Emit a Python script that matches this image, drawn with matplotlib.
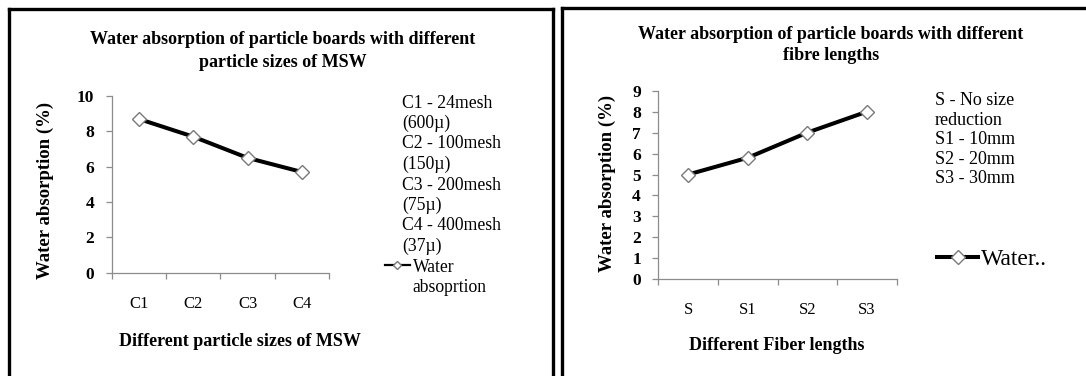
import matplotlib
matplotlib.use("Agg")
import matplotlib.pyplot as plt
from matplotlib.lines import Line2D

plt.rcParams["font.family"] = ["Liberation Serif", "DejaVu Serif"]

W, H = 1086, 376

# ---- data -------------------------------------------------------------
mesh_sizes = ["C1", "C2", "C3", "C4"]
mesh_absorption = [8.7, 7.7, 6.5, 5.7]
mesh_notes = ["C1 - 24mesh", "(600µ)", "C2 - 100mesh", "(150µ)",
              "C3 - 200mesh", "(75µ)", "C4 - 400mesh", "(37µ)"]
mesh_yticks = [0, 2, 4, 6, 8, 10]

fibre_lengths = ["S", "S1", "S2", "S3"]
fibre_absorption = [5.0, 5.8, 7.0, 8.0]
fibre_notes = ["S - No size", "reduction", "S1 - 10mm", "S2 - 20mm", "S3 - 30mm"]
fibre_yticks = [0, 1, 2, 3, 4, 5, 6, 7, 8, 9]

GREY = "#8c8c8c"


def fxy(x, y):
    """pixel (from top-left) -> figure fraction"""
    return x / W, 1 - y / H


def axes_px(fig, x0, y0, x1, y1):
    return fig.add_axes([x0 / W, 1 - y1 / H, (x1 - x0) / W, (y1 - y0) / H])


def frame_line(fig, xs, ys):
    fig.add_artist(Line2D([x / W for x in xs], [1 - y / H for y in ys],
                          transform=fig.transFigure, color="black", lw=2.4,
                          solid_capstyle="projecting"))


def draw_panel(fig, ax, cats, vals, yticks, xlabel, label_px, ylabel_px, cat_pad):
    ax.plot(range(len(cats)), vals, color="black", lw=2.9, marker="D", ms=7.2,
            mfc="white", mec="#7a7a7a", mew=1.0, label="Water", zorder=3)
    n = len(cats)
    ax.set_xlim(-0.5, n - 0.5)
    ax.set_ylim(yticks[0], yticks[-1])
    ax.set_facecolor("none")
    for s in ("top", "right"):
        ax.spines[s].set_visible(False)
    for s in ("left", "bottom"):
        ax.spines[s].set_color(GREY)
        ax.spines[s].set_linewidth(0.9)
    ax.set_xticks([i - 0.5 for i in range(n + 1)])
    ax.set_xticklabels([])
    ax.set_xticks(range(n), minor=True)
    ax.set_xticklabels(cats, minor=True, fontsize=12)
    ax.tick_params(axis="x", which="major", length=4.5, width=0.9, color=GREY)
    ax.tick_params(axis="x", which="minor", length=0, pad=cat_pad)
    ax.set_yticks(yticks)
    ax.set_yticklabels([str(t) for t in yticks], fontsize=12.5, fontweight="bold")
    ax.tick_params(axis="y", length=4.5, width=0.9, color=GREY, pad=8)

    ax.set_xlabel(xlabel, fontsize=13, fontweight="bold", va="center")
    ax.xaxis.set_label_coords(*fxy(*label_px), transform=fig.transFigure)
    ax.set_ylabel("Water absorption (%)", fontsize=13.5, fontweight="bold", va="center")
    ax.yaxis.set_label_coords(*fxy(*ylabel_px), transform=fig.transFigure)


fig = plt.figure(figsize=(W / 100, H / 100), dpi=100)
fig.patch.set_facecolor("white")

# ---- left panel -------------------------------------------------------
ax1 = axes_px(fig, 111.7, 96, 329, 272.7)
draw_panel(fig, ax1, mesh_sizes, mesh_absorption, mesh_yticks,
           "Different particle sizes of MSW", (240, 342), (45, 190), 16.5)
fig.text(*fxy(283, 51), "Water absorption of particle boards with different\n"
         "particle sizes of MSW", ha="center", va="center", fontsize=13,
         fontweight="bold", linespacing=1.45)
for i, line in enumerate(mesh_notes):
    fig.text(*fxy(402, 103 + i * 20.5), line, fontsize=12.7, va="center")
leg1 = ax1.legend(loc="center left", bbox_to_anchor=fxy(385, 267),
                  bbox_transform=fig.transFigure, frameon=False, fontsize=12.7,
                  handlelength=1.4, handletextpad=0.2, borderpad=0, borderaxespad=0)
h1 = leg1.legend_handles[0]
h1.set_linewidth(1.6)
h1.set_markersize(4.2)
fig.text(*fxy(412, 287), "absoprtion", fontsize=12.7, va="center")

# ---- right panel ------------------------------------------------------
ax2 = axes_px(fig, 658.3, 90.7, 896.7, 279.3)
draw_panel(fig, ax2, fibre_lengths, fibre_absorption, fibre_yticks,
           "Different Fiber lengths", (777, 345), (607, 183), 16)
fig.text(*fxy(831, 45), "Water absorption of particle boards with different\n"
         "fibre lengths", ha="center", va="center", fontsize=13,
         fontweight="bold", linespacing=1.35)
for i, line in enumerate(fibre_notes):
    fig.text(*fxy(935, 100.5 + i * 19.6), line, fontsize=13, va="center")
leg2 = ax2.legend(["Water.."], loc="center left", bbox_to_anchor=fxy(937, 259),
                  bbox_transform=fig.transFigure, frameon=False, fontsize=17,
                  handlelength=1.75, handletextpad=0.12, borderpad=0, borderaxespad=0)
h2 = leg2.legend_handles[0]
h2.set_linewidth(2.9)
h2.set_markersize(7.5)

# ---- panel frames -----------------------------------------------------
frame_line(fig, [9, 553], [9, 9])
frame_line(fig, [9, 9], [9, 380])
frame_line(fig, [553, 553], [9, 380])
frame_line(fig, [562, 1090], [7.5, 7.5])
frame_line(fig, [562, 562], [7.5, 380])

fig.savefig("out.png", dpi=100, facecolor="white")
